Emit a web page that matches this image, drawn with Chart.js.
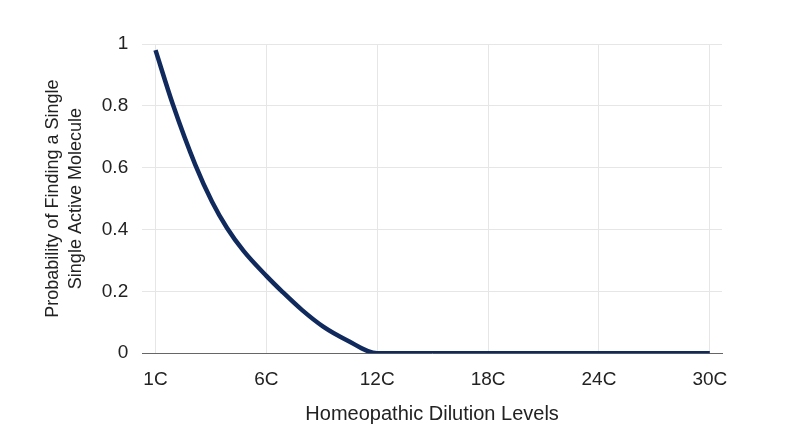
<!DOCTYPE html>
<html lang="en">
<head>
    <meta charset="utf-8">
    <title>Homeopathic dilution</title>
    <script src="https://cdn.jsdelivr.net/npm/chart.js"></script>
    <style>
        html, body { margin: 0; padding: 0; background: #fff; }
        #wrap { width: 800px; height: 447px; position: relative; }
    </style>
</head>
<body>
<div id="wrap"><canvas id="myChart"></canvas></div>

<script>
    // tick labels along the x axis, one per position 0..5
    const levelLabels = ['1C', '6C', '12C', '18C', '24C', '30C'];

    const dilutionPos = [0, 0.156, 0.358, 0.51, 0.645, 0.796, 1, 1.14, 1.32, 1.516, 1.726, 2, 3, 4, 5];
    const probability = [0.98, 0.805, 0.61, 0.49, 0.405, 0.33, 0.25, 0.20, 0.14, 0.085, 0.042, 0, 0, 0, 0];

    const yTicks = [0, 0.2, 0.4, 0.6, 0.8, 1];

    const points = dilutionPos.map((p, i) => ({ x: p, y: probability[i] }));

    const font = 'Liberation Sans, Arial, Helvetica, sans-serif';

    new Chart(document.getElementById('myChart'), {
        type: 'line',
        data: {
            datasets: [{
                label: 'Probability',
                data: points,
                borderColor: '#112a5e',
                borderWidth: 4.5,
                pointRadius: 0,
                fill: false,
                cubicInterpolationMode: 'monotone'
            }]
        },
        options: {
            responsive: true,
            maintainAspectRatio: false,
            animation: false,
            layout: { padding: { top: 44, right: 78, bottom: 21, left: 41 } },
            plugins: {
                legend: { display: false },
                tooltip: { enabled: false }
            },
            scales: {
                x: {
                    type: 'linear',
                    min: -0.12,
                    max: 5.11,
                    grid: { color: '#e6e6e6', drawTicks: false },
                    border: { display: true, color: '#666', width: 1 },
                    ticks: {
                        stepSize: 1,
                        includeBounds: false,
                        padding: 15,
                        color: '#222',
                        font: { family: font, size: 19 },
                        maxRotation: 0,
                        callback: v => levelLabels[v] ?? ''
                    },
                    title: {
                        display: true,
                        text: 'Homeopathic Dilution Levels',
                        color: '#222',
                        font: { family: font, size: 20 },
                        padding: { top: -4, bottom: 0 }
                    }
                },
                y: {
                    min: 0,
                    max: 1,
                    grid: { color: '#e6e6e6', drawTicks: false },
                    border: { display: false },
                    afterBuildTicks: axis => { axis.ticks = yTicks.map(v => ({ value: v })); },
                    ticks: {
                        padding: 14,
                        color: '#222',
                        font: { family: font, size: 19 },
                        callback: v => String(+v.toFixed(1))
                    },
                    title: {
                        display: true,
                        text: ['Probability of Finding a Single', 'Single Active Molecule'],
                        color: '#222',
                        font: { family: font, size: 18, lineHeight: 1.3 },
                        padding: { top: 0, bottom: 0 }
                    }
                }
            }
        }
    });
</script>
</body>
</html>
